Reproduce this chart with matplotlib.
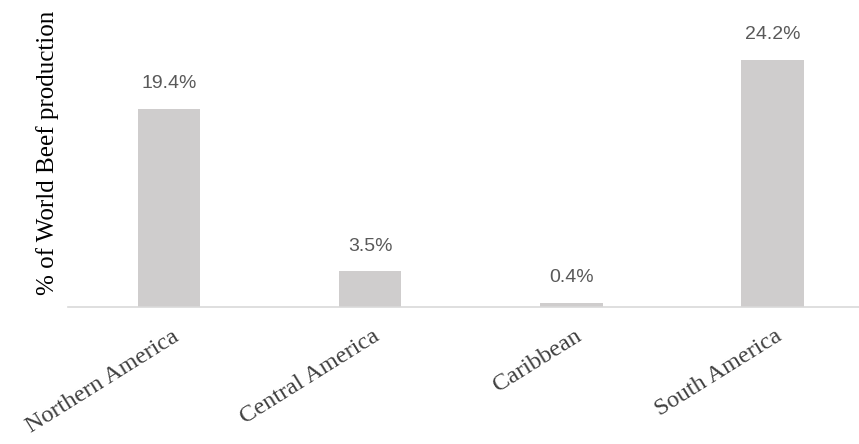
import matplotlib
matplotlib.use("Agg")
import matplotlib.pyplot as plt
import matplotlib.transforms as mtransforms

regions = ["Northern America", "Central America", "Caribbean", "South America"]
share = [19.4, 3.5, 0.4, 24.2]
share_labels = ["19.4%", "3.5%", "0.4%", "24.2%"]

fig = plt.figure(figsize=(8.59, 4.44), dpi=100)
ax = fig.add_axes([0.0797, 0.3086, 0.9203, 0.6464])

xs = range(len(regions))
ax.bar(xs, share, width=0.31, color="#cfcdcd")

for x, v, lab in zip(xs, share, share_labels):
    ax.annotate(lab, (x, v), xytext=(0, 12), textcoords="offset points",
                ha="center", va="bottom", fontsize=14, color="#595959",
                family="Liberation Sans")

ax.set_xlim(-0.5, 3.43)
ax.set_ylim(0, 28.1)

for s in ["top", "right", "left"]:
    ax.spines[s].set_visible(False)
ax.spines["bottom"].set_color("#d9d9d9")
ax.spines["bottom"].set_linewidth(1.2)

ax.set_yticks([])
ax.set_xticks(list(xs))
ax.set_xticklabels(regions, rotation=32, ha="right", va="center",
                   rotation_mode="anchor", fontsize=17.5, color="#404040",
                   family="Liberation Serif")
ax.tick_params(axis="x", length=0, pad=20)
offset = mtransforms.ScaledTranslation(8 / 100, 0, fig.dpi_scale_trans)
for lbl in ax.get_xticklabels():
    lbl.set_transform(lbl.get_transform() + offset)

ax.set_ylabel("% of World Beef production", fontsize=18, family="Liberation Serif",
              color="black")
ax.yaxis.set_label_coords(59 / 859, 0.655, transform=fig.transFigure)

fig.savefig("out.png", dpi=100)
plt.close(fig)
